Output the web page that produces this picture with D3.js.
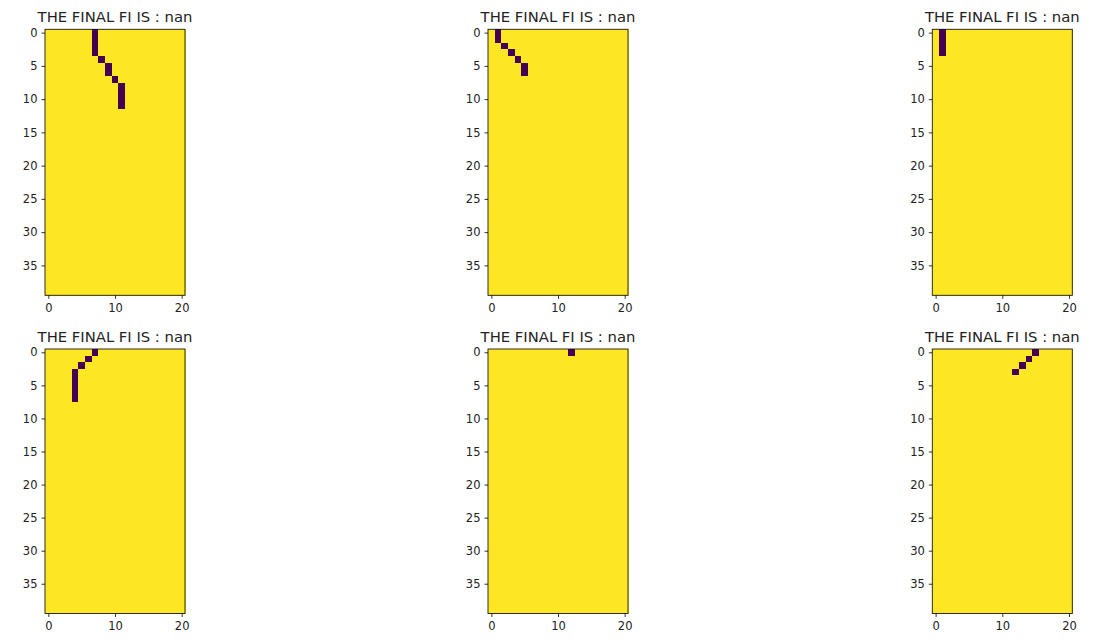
<!DOCTYPE html>
<html>
<head>
<meta charset="utf-8">
<script src="https://cdn.jsdelivr.net/npm/d3@7"></script>
<style>
  html, body { margin: 0; padding: 0; background: #ffffff; }
  svg { display: block; }
  text { font-family: "DejaVu Sans", sans-serif; fill: #222; }
</style>
</head>
<body>
<svg id="chart" width="1120" height="643"></svg>
<script>
// ---- data ----
const nRows = 40;
const nCols = 21;
const titles = ["THE FINAL FI IS : nan", "THE FINAL FI IS : nan", "THE FINAL FI IS : nan",
                "THE FINAL FI IS : nan", "THE FINAL FI IS : nan", "THE FINAL FI IS : nan"];
const yTickValues = [0, 5, 10, 15, 20, 25, 30, 35];
const xTickValues = [0, 10, 20];
// dark (value 0) cells per panel, as [row, col]
const panel1Dark = [[0,7],[1,7],[2,7],[3,7],[4,8],[5,9],[6,9],[7,10],[8,11],[9,11],[10,11],[11,11]];
const panel2Dark = [[0,1],[1,1],[2,2],[3,3],[4,4],[5,5],[6,5]];
const panel3Dark = [[0,1],[1,1],[2,1],[3,1]];
const panel4Dark = [[0,7],[1,6],[2,5],[3,4],[4,4],[5,4],[6,4],[7,4]];
const panel5Dark = [[0,12]];
const panel6Dark = [[0,15],[1,14],[2,13],[3,12]];
const panelsDark = [panel1Dark, panel2Dark, panel3Dark, panel4Dark, panel5Dark, panel6Dark];

// ---- layout ----
const svg = d3.select("#chart");
const colLefts = [45, 488, 932.3];
const axW = 140;
const rowTops = [29.3, 349];
const rowHeights = [266, 264.5];
const color = d3.scaleSequential(d3.interpolateViridis).domain([0, 1]);

panelsDark.forEach((dark, i) => {
  const r = Math.floor(i / 3), c = i % 3;
  const left = colLefts[c], top = rowTops[r], h = rowHeights[r];
  const x = d3.scaleLinear().domain([-0.5, nCols - 0.5]).range([left, left + axW]);
  const y = d3.scaleLinear().domain([-0.5, nRows - 0.5]).range([top, top + h]);

  // build matrix
  const darkSet = new Set(dark.map(d => d[0] + "," + d[1]));
  const cells = [];
  for (let ri = 0; ri < nRows; ri++) {
    for (let ci = 0; ci < nCols; ci++) {
      cells.push({ row: ri, col: ci, v: darkSet.has(ri + "," + ci) ? 0 : 1 });
    }
  }
  const g = svg.append("g").attr("shape-rendering", "crispEdges");
  g.selectAll("rect.cell").data(cells).enter().append("rect")
    .attr("class", "cell")
    .attr("x", d => x(d.col - 0.5))
    .attr("y", d => y(d.row - 0.5))
    .attr("width", d => x(d.col + 0.5) - x(d.col - 0.5) + 0.5)
    .attr("height", d => y(d.row + 0.5) - y(d.row - 0.5) + 0.5)
    .attr("fill", d => color(d.v));
  // re-draw dark cells on top so yellow overlap does not shrink them
  g.selectAll("rect.dark").data(cells.filter(d => d.v === 0)).enter().append("rect")
    .attr("class", "dark")
    .attr("x", d => x(d.col - 0.5))
    .attr("y", d => y(d.row - 0.5))
    .attr("width", d => x(d.col + 0.5) - x(d.col - 0.5))
    .attr("height", d => y(d.row + 0.5) - y(d.row - 0.5))
    .attr("fill", d => color(d.v));

  // frame
  svg.append("rect")
    .attr("x", left).attr("y", top).attr("width", axW).attr("height", h)
    .attr("fill", "none").attr("stroke", "#1a1a1a").attr("stroke-width", 0.9);

  // axes
  const yAxis = d3.axisLeft(y).tickValues(yTickValues).tickSize(3.5).tickPadding(4);
  const ya = svg.append("g").attr("transform", `translate(${left},0)`).call(yAxis);
  const xAxis = d3.axisBottom(x).tickValues(xTickValues).tickSize(3.5).tickPadding(5);
  const xa = svg.append("g").attr("transform", `translate(0,${top + h})`).call(xAxis);
  [ya, xa].forEach(a => {
    a.select(".domain").remove();
    a.selectAll(".tick line").attr("stroke", "#000").attr("stroke-width", 0.8);
    a.selectAll(".tick text").style("font-size", "11.5px").attr("fill", "#222")
      .style("font-family", "'DejaVu Sans', sans-serif");
  });

  // title
  svg.append("text")
    .attr("x", left + axW / 2)
    .attr("y", top - 7)
    .attr("text-anchor", "middle")
    .style("font-size", "14.8px")
    .text(titles[i]);
});
</script>
</body>
</html>
